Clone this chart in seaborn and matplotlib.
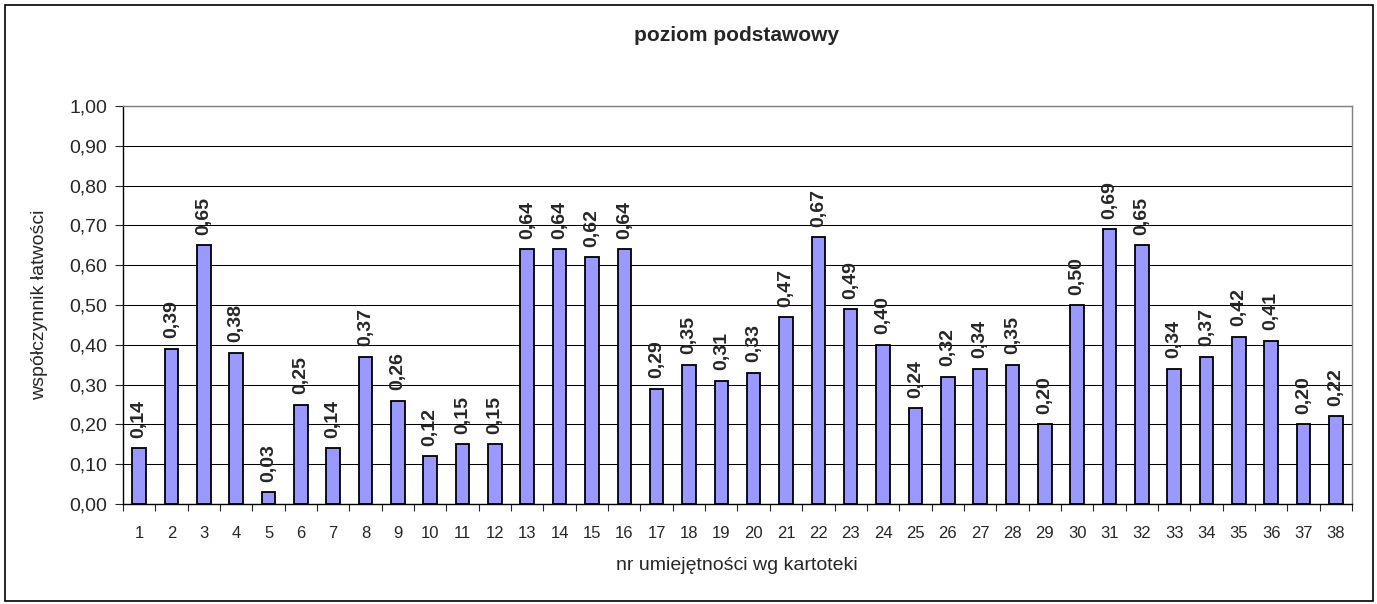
import numpy as np
import pandas as pd
import matplotlib
matplotlib.use("Agg")
import matplotlib.pyplot as plt
import seaborn as sns
from matplotlib.patches import Rectangle
from matplotlib.ticker import FixedLocator

# ========== Data ==========

skills = [str(i) for i in range(1, 39)]
ease = [0.14, 0.39, 0.65, 0.38, 0.03, 0.25, 0.14, 0.37, 0.26, 0.12,
        0.15, 0.15, 0.64, 0.64, 0.62, 0.64, 0.29, 0.35, 0.31, 0.33,
        0.47, 0.67, 0.49, 0.40, 0.24, 0.32, 0.34, 0.35, 0.20, 0.50,
        0.69, 0.65, 0.34, 0.37, 0.42, 0.41, 0.20, 0.22]
yticks = [0.0, 0.1, 0.2, 0.3, 0.4, 0.5, 0.6, 0.7, 0.8, 0.9, 1.0]

title = "poziom podstawowy"
xlabel = "nr umiejętności wg kartoteki"
ylabel = "współczynnik łatwości"


def pl_fmt(v):
    return f"{v:.2f}".replace(".", ",")


# ========== Plot ==========

sns.set_style("white")
plt.rcParams['font.family'] = ['Liberation Sans', 'DejaVu Sans']

df = pd.DataFrame({"skill": skills, "ease": ease})

W, H = 1377, 604
fig = plt.figure(figsize=(W / 100, H / 100), dpi=100)
ax = fig.add_axes([123 / W, 1 - 504 / H, (1352 - 123) / W, (504 - 106) / H])

sns.barplot(data=df, x="skill", y="ease", color="#9999FF", saturation=1,
            width=0.42, edgecolor="black", linewidth=1.3, ax=ax, zorder=3)

ax.set_xlim(-0.5, len(skills) - 0.5)
ax.set_ylim(0, 1)

## grid and spines
ax.set_yticks(yticks)
ax.set_yticklabels([pl_fmt(v) for v in yticks], fontsize=14)
ax.yaxis.grid(True, color="black", linewidth=0.75, zorder=0)
ax.set_axisbelow(True)
for side in ["left", "bottom"]:
    ax.spines[side].set_color("black")
    ax.spines[side].set_linewidth(1.0)
for side in ["top", "right"]:
    ax.spines[side].set_color("#808080")
    ax.spines[side].set_linewidth(1.0)

ax.tick_params(axis="y", direction="out", length=6, width=0.8, pad=5.5, left=True)
ax.tick_params(axis="x", which="major", length=0, pad=15.5, labelsize=12)
ax.xaxis.set_minor_locator(FixedLocator(np.arange(-0.5, len(skills), 1.0)))
ax.tick_params(axis="x", which="minor", direction="out", length=5, width=0.8, bottom=True)

ax.set_xlabel("")
ax.set_ylabel("")

## value labels
for i, v in enumerate(ease):
    ax.annotate(pl_fmt(v), (i, v), xytext=(0, 7.5), textcoords="offset points",
                rotation=90, ha="center", va="bottom", fontsize=14,
                fontweight="bold")

## texts
fig.text(737 / W, 1 - 35.5 / H, title, ha="center", va="center",
         fontsize=15, fontweight="bold")
fig.text(737 / W, 1 - 565 / H, xlabel, ha="center", va="center", fontsize=14)
fig.text(40 / W, 1 - 305 / H, ylabel, ha="center", va="center",
         rotation=90, fontsize=14)

## outer frame
fig.patches.append(Rectangle((5 / W, 3 / H), (1373 - 5) / W, (600 - 4) / H,
                             transform=fig.transFigure, fill=False,
                             edgecolor="black", linewidth=1.2))

fig.savefig("out.png", dpi=100)
